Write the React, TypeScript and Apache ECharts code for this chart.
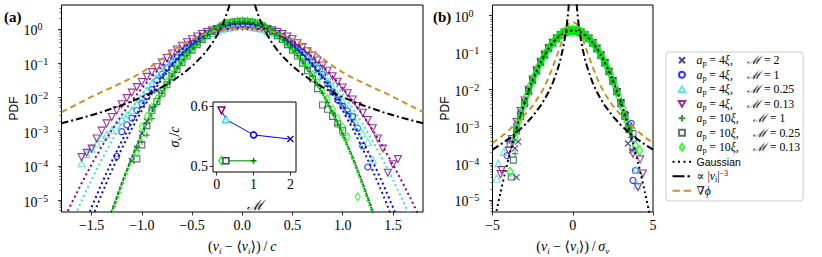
import React, { useEffect, useRef } from 'react';
import * as echarts from 'echarts';

// ---------------- tick values ----------------
const A_X_TICKS = [-1.5, -1, -0.5, 0, 0.5, 1, 1.5];
const B_X_TICKS = [-5, 0, 5];
const Y_TICKS = [1e-5, 1e-4, 1e-3, 1e-2, 1e-1, 1];
const INSET_X_TICKS = [0, 1, 2];
const INSET_Y_TICKS = [0.5, 0.6];

// ---------------- panel (a): markers ----------------
const A_NAVY = [[-1.1,1.4e-4],[-1.05,3.2e-4],[-1,8.9e-4],[-0.95,2.0e-3],[-0.9,5.0e-3],[-0.85,0.0158],[-0.8,0.039],[-0.75,0.0605],[-0.7,0.0912],[-0.65,0.133],[-0.6,0.19],[-0.55,0.262],[-0.5,0.353],[-0.45,0.461],[-0.4,0.586],[-0.35,0.724],[-0.3,0.87],[-0.25,1.02],[-0.2,1.15],[-0.15,1.27],[-0.1,1.37],[-0.05,1.43],[0,1.45],[0.05,1.42],[0.1,1.36],[0.15,1.28],[0.2,1.15],[0.25,1.01],[0.3,0.87],[0.35,0.72],[0.4,0.59],[0.45,0.46],[0.5,0.35],[0.55,0.26],[0.6,0.19],[0.65,0.133],[0.7,0.091],[0.75,0.06],[0.8,0.039],[0.85,0.0245],[0.9,0.0141],[0.95,8.9e-3],[1,5.6e-3],[1.05,3.55e-3],[1.1,2.0e-3]];
const A_BLUE = [[-1.25,1.9e-4],[-1.2,1.0e-3],[-1.15,1.58e-3],[-1.1,2.5e-3],[-1.05,4.2e-3],[-1,6.6e-3],[-0.95,0.0105],[-0.9,0.017],[-0.85,0.0309],[-0.8,0.0476],[-0.75,0.0718],[-0.7,0.105],[-0.65,0.151],[-0.6,0.21],[-0.55,0.284],[-0.5,0.376],[-0.45,0.483],[-0.4,0.605],[-0.35,0.738],[-0.3,0.877],[-0.25,1.01],[-0.2,1.14],[-0.15,1.25],[-0.1,1.34],[-0.05,1.39],[0,1.41],[0.05,1.39],[0.1,1.34],[0.15,1.25],[0.2,1.14],[0.25,1.01],[0.3,0.877],[0.35,0.738],[0.4,0.605],[0.45,0.483],[0.5,0.376],[0.55,0.284],[0.6,0.21],[0.65,0.151],[0.7,0.105],[0.75,0.0718],[0.8,0.0476],[0.85,0.025],[0.9,0.0145],[0.95,8.5e-3],[1,5.6e-3],[1.05,4.0e-3],[1.1,2.8e-3],[1.15,1.26e-3],[1.2,3.8e-4],[1.25,9.3e-5]];
const A_CYAN = [[-1.6,1.2e-4],[-1.55,2.2e-4],[-1.5,3.2e-4],[-1.45,4.5e-4],[-1.4,6.5e-4],[-1.35,8.3e-4],[-1.3,1.12e-3],[-1.25,1.62e-3],[-1.2,2.2e-3],[-1.15,3.0e-3],[-1.1,4.2e-3],[-1.05,6.3e-3],[-1,8.9e-3],[-0.95,0.0158],[-0.9,0.024],[-0.85,0.0355],[-0.8,0.0525],[-0.75,0.0759],[-0.7,0.107],[-0.65,0.148],[-0.6,0.2],[-0.55,0.263],[-0.5,0.339],[-0.45,0.427],[-0.4,0.525],[-0.35,0.631],[-0.3,0.759],[-0.25,0.871],[-0.2,0.977],[-0.15,1.07],[-0.1,1.17],[-0.05,1.26],[0,1.29],[0.05,1.26],[0.1,1.17],[0.15,1.07],[0.2,0.977],[0.25,0.871],[0.3,0.759],[0.35,0.631],[0.4,0.525],[0.45,0.427],[0.5,0.339],[0.55,0.251],[0.6,0.186],[0.65,0.135],[0.7,0.0955],[0.75,0.0661],[0.8,0.0447],[0.85,0.0295],[0.9,0.0191],[0.95,0.012],[1,7.6e-3],[1.05,4.6e-3],[1.1,2.7e-3],[1.15,1.5e-3],[1.2,8.9e-4],[1.25,5.0e-4],[1.3,1.48e-4]];
const A_PURPLE = [[-1.6,1.8e-4],[-1.55,2.4e-4],[-1.5,3.2e-4],[-1.45,6.3e-4],[-1.4,1.07e-3],[-1.35,1.74e-3],[-1.3,2.69e-3],[-1.25,4.17e-3],[-1.2,6.31e-3],[-1.15,9.55e-3],[-1.1,0.0138],[-1.05,0.02],[-1,0.0282],[-0.95,0.0398],[-0.9,0.055],[-0.85,0.0759],[-0.8,0.105],[-0.75,0.141],[-0.7,0.191],[-0.65,0.251],[-0.6,0.324],[-0.55,0.407],[-0.5,0.501],[-0.45,0.603],[-0.4,0.708],[-0.35,0.813],[-0.3,0.912],[-0.25,1.0],[-0.2,1.07],[-0.15,1.12],[-0.1,1.15],[-0.05,1.17],[0,1.175],[0.05,1.17],[0.1,1.15],[0.15,1.12],[0.2,1.07],[0.25,1.0],[0.3,0.912],[0.35,0.813],[0.4,0.708],[0.45,0.603],[0.5,0.501],[0.55,0.38],[0.6,0.295],[0.65,0.224],[0.7,0.166],[0.75,0.12],[0.8,0.0851],[0.85,0.0603],[0.9,0.0417],[0.95,0.0288],[1,0.0195],[1.05,0.0132],[1.1,8.7e-3],[1.15,5.62e-3],[1.2,3.55e-3],[1.25,2.19e-3],[1.3,1.26e-3],[1.35,6.3e-4],[1.4,3.2e-4],[1.45,6.3e-5],[1.5,1.12e-4],[1.55,1.58e-4]];
const A_GREEN = [[-1.05,3.5e-4],[-1,5.0e-4],[-0.95,7.9e-4],[-0.9,2.4e-3],[-0.85,6.3e-3],[-0.8,0.0132],[-0.75,0.024],[-0.7,0.0417],[-0.65,0.0692],[-0.6,0.11],[-0.55,0.17],[-0.5,0.251],[-0.45,0.363],[-0.4,0.501],[-0.35,0.661],[-0.3,0.851],[-0.25,1.05],[-0.2,1.26],[-0.15,1.45],[-0.1,1.58],[-0.05,1.66],[0,1.7],[0.05,1.66],[0.1,1.58],[0.15,1.45],[0.2,1.26],[0.25,1.05],[0.3,0.851],[0.35,0.661],[0.4,0.501],[0.45,0.363],[0.5,0.251],[0.55,0.17],[0.6,0.11],[0.65,0.0692],[0.7,0.0417],[0.75,0.024],[0.8,0.0132],[0.85,7.1e-3],[0.9,3.55e-3],[0.95,1.58e-3],[1,7.9e-4]];
const A_SLATE = [[-1.05,1.6e-4],[-1,4.1e-4],[-0.95,1.5e-3],[-0.9,4.2e-3],[-0.85,7.6e-3],[-0.8,0.0132],[-0.75,0.0234],[-0.7,0.0398],[-0.65,0.0661],[-0.6,0.105],[-0.55,0.162],[-0.5,0.24],[-0.45,0.347],[-0.4,0.49],[-0.35,0.646],[-0.3,0.832],[-0.25,1.02],[-0.2,1.23],[-0.15,1.41],[-0.1,1.55],[-0.05,1.62],[0,1.66],[0.05,1.62],[0.1,1.55],[0.15,1.41],[0.2,1.23],[0.25,1.02],[0.3,0.832],[0.35,0.646],[0.4,0.49],[0.45,0.347],[0.5,0.24],[0.55,0.162],[0.6,0.1],[0.65,0.06],[0.7,0.035],[0.75,0.018],[0.8,6.0e-3],[0.85,4.5e-3],[0.9,2.8e-3],[0.95,1.7e-3],[1,1.1e-3]];
const A_LIME = [[-1.05,2.5e-4],[-1,1.38e-3],[-0.95,2.8e-3],[-0.9,5.2e-3],[-0.85,9.3e-3],[-0.8,0.0158],[-0.75,0.0282],[-0.7,0.0468],[-0.65,0.0759],[-0.6,0.117],[-0.55,0.178],[-0.5,0.263],[-0.45,0.372],[-0.4,0.513],[-0.35,0.676],[-0.3,0.871],[-0.25,1.07],[-0.2,1.29],[-0.15,1.48],[-0.1,1.62],[-0.05,1.7],[0,1.74],[0.05,1.7],[0.1,1.62],[0.15,1.48],[0.2,1.29],[0.25,1.07],[0.3,0.871],[0.35,0.676],[0.4,0.513],[0.45,0.372],[0.5,0.263],[0.55,0.178],[0.6,0.117],[0.65,0.0759],[0.7,0.0468],[0.75,0.0282],[0.8,0.0158],[0.85,9.3e-3],[0.9,4.5e-3],[0.95,2.5e-3],[1,1.38e-3],[1.05,7.1e-4],[1.15,1.26e-5]];

// ---------------- panel (a): fitted Gaussians (dotted) ----------------
const G_X = [-1.8,-1.7,-1.6,-1.5,-1.4,-1.3,-1.2,-1.1,-1.0,-0.9,-0.8,-0.7,-0.6,-0.5,-0.4,-0.3,-0.2,-0.1,0,0.1,0.2,0.3,0.4,0.5,0.6,0.7,0.8,0.9,1.0,1.1,1.2,1.3,1.4,1.5,1.6,1.7,1.8];
const G_NAVY = [8e-9,6.3e-8,4.4e-7,2.71e-6,1.49e-5,7.25e-5,3.15e-4,1.21e-3,4.17e-3,0.0127,0.0345,0.0833,0.179,0.341,0.578,0.872,1.17,1.39,1.48,1.39,1.17,0.872,0.578,0.341,0.179,0.0833,0.0345,0.0127,4.17e-3,1.21e-3,3.15e-4,7.25e-5,1.49e-5,2.71e-6,4.4e-7,6.3e-8,8e-9];
const G_BLUE = [3e-8,1.9e-7,1.14e-6,6.24e-6,3.05e-5,1.34e-4,5.28e-4,1.86e-3,5.89e-3,0.0167,0.0424,0.0964,0.196,0.359,0.587,0.863,1.14,1.34,1.41,1.34,1.14,0.863,0.587,0.359,0.196,0.0964,0.0424,0.0167,5.89e-3,1.86e-3,5.28e-4,1.34e-4,3.05e-5,6.24e-6,1.14e-6,1.9e-7,3e-8];
const G_CYAN = [4.2e-7,2.09e-6,9.55e-6,3.98e-5,1.51e-4,5.25e-4,1.66e-3,4.79e-3,0.0126,0.0302,0.0661,0.132,0.24,0.398,0.603,0.832,1.05,1.2,1.26,1.2,1.05,0.832,0.603,0.398,0.24,0.132,0.0661,0.0302,0.0126,4.79e-3,1.66e-3,5.25e-4,1.51e-4,3.98e-5,9.55e-6,2.09e-6,4.2e-7];
const G_PURPLE = [1.92e-6,8.05e-6,3.11e-5,1.11e-4,3.64e-4,1.1e-3,3.07e-3,7.87e-3,0.0186,0.0406,0.0815,0.151,0.256,0.403,0.582,0.776,0.953,1.08,1.12,1.08,0.953,0.776,0.582,0.403,0.256,0.151,0.0815,0.0406,0.0186,7.87e-3,3.07e-3,1.1e-3,3.64e-4,1.11e-4,3.11e-5,8.05e-6,1.92e-6];
const G_GREEN = [3.5e-11,4.9e-10,6e-9,6.3e-8,5.8e-7,4.5e-6,3.0e-5,1.73e-4,8.5e-4,3.6e-3,0.0131,0.041,0.11,0.254,0.504,0.857,1.25,1.57,1.7,1.57,1.25,0.857,0.504,0.254,0.11,0.041,0.0131,3.6e-3,8.5e-4,1.73e-4,3.0e-5,4.5e-6,5.8e-7,6.3e-8,6e-9,4.9e-10,3.5e-11];
const G_SLATE = [4e-11,5.5e-10,6.6e-9,6.8e-8,6.2e-7,4.75e-6,3.14e-5,1.78e-4,8.7e-4,3.66e-3,0.0132,0.041,0.109,0.251,0.496,0.841,1.23,1.54,1.66,1.54,1.23,0.841,0.496,0.251,0.109,0.041,0.0132,3.66e-3,8.7e-4,1.78e-4,3.14e-5,4.75e-6,6.2e-7,6.8e-8,6.6e-9,5.5e-10,4e-11];
const G_LIME = [2e-11,3.2e-10,4.1e-9,4.6e-8,4.3e-7,3.51e-6,2.44e-5,1.45e-4,7.41e-4,3.24e-3,0.0121,0.0388,0.106,0.25,0.502,0.865,1.27,1.61,1.74,1.61,1.27,0.865,0.502,0.25,0.106,0.0388,0.0121,3.24e-3,7.41e-4,1.45e-4,2.44e-5,3.51e-6,4.3e-7,4.6e-8,4.1e-9,3.2e-10,2e-11];

// ---------------- panel (a): model curves ----------------
const A_PHI_Y = [3.72e-3,5.25e-3,7.41e-3,0.0105,0.0145,0.0195,0.0269,0.0372,0.0537,0.0832,0.135,0.229,0.347,0.501,0.676,0.832,0.955,1.023,1.047,1.023,0.955,0.832,0.676,0.501,0.347,0.229,0.135,0.0832,0.0537,0.0372,0.0269,0.0195,0.0145,0.0105,7.41e-3,5.25e-3,3.72e-3];
const A_POW_L_X = [-1.8,-1.6,-1.4,-1.2,-1.0,-0.9,-0.8,-0.7,-0.6,-0.5,-0.4,-0.35,-0.3,-0.25,-0.2,-0.17,-0.15,-0.13,-0.11];
const A_POW_R_X = [1.8,1.6,1.4,1.2,1.0,0.9,0.8,0.7,0.6,0.5,0.4,0.35,0.3,0.25,0.2,0.17,0.15,0.13,0.11];
const A_POW_Y = [1.75e-3,2.49e-3,3.72e-3,5.9e-3,0.0102,0.014,0.0199,0.0297,0.0472,0.0816,0.159,0.238,0.378,0.653,1.275,2.08,3.02,4.64,7.66];

// ---------------- panel (b) ----------------
const B_X = [-3.5,-3.25,-3,-2.75,-2.5,-2.25,-2,-1.75,-1.5,-1.25,-1,-0.75,-0.5,-0.25,0,0.25,0.5,0.75,1,1.25,1.5,1.75,2,2.25,2.5,2.75,3,3.25,3.5];
const B_NAVY = [9.5e-4,2.1e-3,4.5e-3,9.4e-3,0.018,0.032,0.055,0.087,0.131,0.184,0.243,0.302,0.353,0.39,0.402,0.39,0.354,0.303,0.243,0.182,0.128,0.085,0.053,0.031,0.0172,9.0e-3,4.5e-3,2.2e-3,1.0e-3];
const B_BLUE = [1.1e-3,2.3e-3,4.6e-3,9.5e-3,0.0178,0.032,0.054,0.086,0.13,0.182,0.24,0.298,0.349,0.385,0.397,0.386,0.351,0.3,0.242,0.184,0.131,0.087,0.055,0.032,0.0178,9.3e-3,4.6e-3,2.1e-3,1.1e-3];
const B_CYAN = [1.2e-3,2.4e-3,4.8e-3,9.6e-3,0.018,0.032,0.055,0.087,0.131,0.183,0.241,0.298,0.346,0.379,0.39,0.379,0.347,0.298,0.241,0.183,0.13,0.085,0.053,0.031,0.0171,8.8e-3,4.3e-3,2.0e-3,9.0e-4];
const B_PURPLE = [1.3e-3,2.6e-3,5.0e-3,9.8e-3,0.0185,0.033,0.056,0.088,0.132,0.184,0.241,0.296,0.343,0.374,0.384,0.374,0.342,0.295,0.24,0.182,0.128,0.084,0.052,0.03,0.0165,8.5e-3,4.2e-3,1.9e-3,8.5e-4];
const B_GREEN = [8.0e-4,1.9e-3,4.2e-3,8.8e-3,0.017,0.031,0.053,0.085,0.129,0.183,0.243,0.304,0.356,0.392,0.405,0.392,0.356,0.303,0.242,0.182,0.128,0.085,0.053,0.031,0.017,8.8e-3,4.2e-3,1.9e-3,8.5e-4];
const B_SLATE = [7.5e-4,1.8e-3,4.1e-3,8.7e-3,0.0172,0.0315,0.054,0.086,0.13,0.184,0.245,0.306,0.358,0.394,0.406,0.394,0.357,0.304,0.243,0.182,0.127,0.084,0.052,0.0305,0.0168,8.6e-3,4.1e-3,1.85e-3,8.0e-4];
const B_LIME = [8.2e-4,1.9e-3,4.3e-3,9.0e-3,0.0174,0.0318,0.0545,0.087,0.131,0.185,0.246,0.307,0.36,0.396,0.408,0.396,0.36,0.306,0.245,0.184,0.13,0.086,0.054,0.0315,0.0173,8.9e-3,4.3e-3,1.95e-3,8.5e-4];
const B_LIME_MID_X = [-3.375,-3.125,-2.875,-2.625,-2.375,-2.125,-1.875,-1.625,-1.375,-1.125,-0.875,-0.625,-0.375,-0.125,0.125,0.375,0.625,0.875,1.125,1.375,1.625,1.875,2.125,2.375,2.625,2.875,3.125,3.375];
const B_LIME_MID_Y = [1.35e-3,3.05e-3,6.5e-3,0.013,0.0243,0.0425,0.0703,0.109,0.159,0.216,0.277,0.335,0.379,0.404,0.404,0.379,0.335,0.277,0.216,0.159,0.109,0.0703,0.0425,0.0243,0.013,6.5e-3,3.05e-3,1.35e-3];
const B_NAVY_TAIL = [[-3.6,2.5e-4],[-3.5,4.1e-5],[-3.4,3.8e-4],[3.44,3.4e-4],[3.7,2.2e-4]];
const B_BLUE_TAIL = [[-4.1,1.6e-4],[-3.8,4.0e-4],[3.64,1.2e-3],[3.75,3.4e-5],[3.9,6.3e-5],[3.8,4.5e-4]];
const B_CYAN_TAIL = [[-4.74,3.8e-5],[-4.64,9.8e-5],[-4.3,2.0e-4],[-3.9,4.2e-4],[3.96,6.5e-5],[4.0,2.5e-5],[3.8,2.5e-4]];
const B_PURPLE_TAIL = [[-4.5,5.0e-5],[-4.43,6.5e-5],[-4.0,2.2e-4],[-3.8,4.5e-4],[3.75,1.8e-4],[4.06,2.2e-5],[4.37,5.2e-5],[4.2,1.26e-4]];
const B_GREEN_TAIL = [[-3.6,1.8e-4],[-3.45,7.9e-4],[3.6,5.0e-4]];
const B_SLATE_TAIL = [[-3.9,3.2e-4],[-3.83,4.2e-5],[-3.7,1.2e-4],[3.75,6.3e-4]];
const B_LIME_TAIL = [[-3.9,5.8e-5],[-3.6,5.0e-4],[4.16,2.2e-4],[3.9,3.0e-4]];

const B_GAUSS_X = [-5,-4.75,-4.5,-4.25,-4,-3.75,-3.5,-3.25,-3,-2.75,-2.5,-2.25,-2,-1.75,-1.5,-1.25,-1,-0.75,-0.5,-0.25,0,0.25,0.5,0.75,1,1.25,1.5,1.75,2,2.25,2.5,2.75,3,3.25,3.5,3.75,4,4.25,4.5,4.75,5];
const B_GAUSS_Y = [1.49e-6,5.0e-6,1.6e-5,4.77e-5,1.34e-4,3.53e-4,8.73e-4,2.03e-3,4.43e-3,9.09e-3,0.0175,0.0317,0.054,0.0863,0.1295,0.1826,0.242,0.3011,0.3521,0.3867,0.3989,0.3867,0.3521,0.3011,0.242,0.1826,0.1295,0.0863,0.054,0.0317,0.0175,9.09e-3,4.43e-3,2.03e-3,8.73e-4,3.53e-4,1.34e-4,4.77e-5,1.6e-5,5.0e-6,1.49e-6];
const B_PHI_X = [-5,-4.5,-4,-3.5,-3,-2.5,-2,-1.75,-1.5,-1.25,-1,-0.75,-0.5,-0.25,0,0.25,0.5,0.75,1,1.25,1.5,1.75,2,2.5,3,3.5,4,4.5,5];
const B_PHI_Y = [3.5e-4,5.0e-4,7.6e-4,1.26e-3,2.0e-3,3.55e-3,7.59e-3,0.012,0.0209,0.0398,0.0794,0.158,0.38,0.603,0.676,0.603,0.38,0.158,0.0794,0.0398,0.0209,0.012,7.59e-3,3.55e-3,2.0e-3,1.26e-3,7.6e-4,5.0e-4,3.5e-4];
const B_POW_L_X = [-5,-4.5,-4,-3.5,-3,-2.5,-2,-1.75,-1.5,-1.25,-1,-0.8,-0.6,-0.5,-0.4,-0.35,-0.3,-0.27,-0.24,-0.22];
const B_POW_R_X = [5,4.5,4,3.5,3,2.5,2,1.75,1.5,1.25,1,0.8,0.6,0.5,0.4,0.35,0.3,0.27,0.24,0.22];
const B_POW_Y = [2.32e-4,3.18e-4,4.53e-4,6.76e-4,1.074e-3,1.856e-3,3.625e-3,5.41e-3,8.59e-3,0.01485,0.029,0.0566,0.134,0.232,0.453,0.676,1.074,1.473,2.098,2.72];

// ---------------- inset ----------------
const INSET_M_4 = [0.13, 0.25, 1, 2];
const INSET_S_4 = [0.593, 0.578, 0.552, 0.545];
const INSET_M_10 = [0.13, 0.25, 1];
const INSET_S_10 = [0.509, 0.509, 0.509];

// ---------------- styles ----------------
const SERIF = '"Liberation Serif", "DejaVu Serif", serif';
const SANS = '"Liberation Sans", Arial, sans-serif';
const NAVY = '#191970';
const BLUE = '#0000ff';
const CYAN = '#40e0d0';
const PURPLE = '#800080';
const GREEN = '#008000';
const SLATE = '#2f4f4f';
const LIME = '#00ff00';
const GOLD = '#c8922f';

const X_SYM = 'path://M0,0L10,10M10,0L0,10';
const PLUS_SYM = 'path://M5,0L5,10M0,5L10,5';
const TRI_DOWN = 'path://M0,0L10,0L5,8.66Z';

// legend icons: padded to a 19x7 box so they are not stretched
const BOX = 'M0,0M19,7';
const LG_X = `path://${BOX}M6.5,0.5L12.5,6.5M12.5,0.5L6.5,6.5`;
const LG_CIRCLE = `path://${BOX}M12.5,3.5A3,3,0,1,1,6.5,3.5A3,3,0,1,1,12.5,3.5Z`;
const LG_TRI_UP = `path://${BOX}M6.2,6.3L12.8,6.3L9.5,0.6Z`;
const LG_TRI_DOWN = `path://${BOX}M6.2,0.7L12.8,0.7L9.5,6.4Z`;
const LG_PLUS = `path://${BOX}M9.5,0.2L9.5,6.8M6.2,3.5L12.8,3.5`;
const LG_SQUARE = `path://${BOX}M6.6,0.6L12.4,0.6L12.4,6.4L6.6,6.4Z`;
const LG_DIAMOND = `path://${BOX}M9.5,0L11.8,3.5L9.5,7L7.2,3.5Z`;
const LG_DOTS = `path://${BOX}M0,2.5h2v2h-2zM5.5,2.5h2v2h-2zM11,2.5h2v2h-2zM16.5,2.5h2v2h-2z`;
const LG_DASHDOT = `path://${BOX}M0,2.5h12v2h-12zM15,2.5h2.5v2h-2.5z`;
const LG_DASH = `path://${BOX}M0,2.5h7.5v2h-7.5zM11,2.5h7.5v2h-7.5z`;

const SERIES_DEF = [
  { key: 's1', color: NAVY, symbol: X_SYM, lg: LG_X, size: 6, a: A_NAVY, bY: B_NAVY, bT: B_NAVY_TAIL, g: G_NAVY },
  { key: 's2', color: BLUE, symbol: 'circle', lg: LG_CIRCLE, size: 6, a: A_BLUE, bY: B_BLUE, bT: B_BLUE_TAIL, g: G_BLUE },
  { key: 's3', color: CYAN, symbol: 'triangle', lg: LG_TRI_UP, size: 7, a: A_CYAN, bY: B_CYAN, bT: B_CYAN_TAIL, g: G_CYAN },
  { key: 's4', color: PURPLE, symbol: TRI_DOWN, lg: LG_TRI_DOWN, size: 7, a: A_PURPLE, bY: B_PURPLE, bT: B_PURPLE_TAIL, g: G_PURPLE },
  { key: 's5', color: GREEN, symbol: PLUS_SYM, lg: LG_PLUS, size: 6, a: A_GREEN, bY: B_GREEN, bT: B_GREEN_TAIL, g: G_GREEN },
  { key: 's6', color: SLATE, symbol: 'rect', lg: LG_SQUARE, size: 6, a: A_SLATE, bY: B_SLATE, bT: B_SLATE_TAIL, g: G_SLATE },
  { key: 's7', color: LIME, symbol: 'diamond', lg: LG_DIAMOND, size: [5, 8], a: A_LIME, bY: B_LIME, bT: B_LIME_TAIL, g: G_LIME },
];

const SYM_OF: Record<string, any> = {};
SERIES_DEF.forEach((s) => { SYM_OF[s.key] = s; });

const GAP = '\u2003\u2009';
const LEGEND_TEXT: Record<string, string> = {
  s1: `{i|a}{sb|p}{r| = 4}{i|ξ}{r|,${GAP}}{i|ℳ}{r| = 2}`,
  s2: `{i|a}{sb|p}{r| = 4}{i|ξ}{r|,${GAP}}{i|ℳ}{r| = 1}`,
  s3: `{i|a}{sb|p}{r| = 4}{i|ξ}{r|,${GAP}}{i|ℳ}{r| = 0.25}`,
  s4: `{i|a}{sb|p}{r| = 4}{i|ξ}{r|,${GAP}}{i|ℳ}{r| = 0.13}`,
  s5: `{i|a}{sb|p}{r| = 10}{i|ξ}{r|,${GAP}}{i|ℳ}{r| = 1}`,
  s6: `{i|a}{sb|p}{r| = 10}{i|ξ}{r|,${GAP}}{i|ℳ}{r| = 0.25}`,
  s7: `{i|a}{sb|p}{r| = 10}{i|ξ}{r|,${GAP}}{i|ℳ}{r| = 0.13}`,
  Gaussian: '{sans|Gaussian}',
  powerlaw: '{r|∝ |}{i|v}{sb|i}{r||}{sp|−3}',
  gradphi: '{r|∇}{i|ϕ}',
};

const LH = 14.5;
const LFS = 11.8;
const legendRich = {
  r: { fontFamily: SERIF, fontSize: LFS, lineHeight: LH, verticalAlign: 'middle', color: '#000' },
  i: { fontFamily: SERIF, fontStyle: 'italic', fontSize: LFS, lineHeight: LH, verticalAlign: 'middle', color: '#000' },
  sb: { fontFamily: SERIF, fontSize: 8, lineHeight: 8, verticalAlign: 'bottom', color: '#000' },
  sp: { fontFamily: SERIF, fontSize: 8, lineHeight: 8, verticalAlign: 'top', color: '#000' },
  sans: { fontFamily: SANS, fontSize: 10.5, lineHeight: LH, verticalAlign: 'middle', color: '#000' },
};

const mathRich = {
  r: { fontFamily: SERIF, fontSize: 14, lineHeight: 18, verticalAlign: 'middle', color: '#000' },
  i: { fontFamily: SERIF, fontStyle: 'italic', fontSize: 14, lineHeight: 18, verticalAlign: 'middle', color: '#000' },
  sb: { fontFamily: SERIF, fontStyle: 'italic', fontSize: 9, lineHeight: 9, verticalAlign: 'bottom', color: '#000' },
};

const powRich = {
  b: { fontFamily: SERIF, fontSize: 14, lineHeight: 18, verticalAlign: 'middle', color: '#000' },
  p: { fontFamily: SERIF, fontSize: 10, lineHeight: 10, verticalAlign: 'top', color: '#000' },
};

function fmtPow(v: number) {
  const e = Math.round(Math.log10(v));
  return `{b|10}{p|${e < 0 ? '−' + -e : e}}`;
}
function fmtDec(v: number) {
  return (v < 0 ? '−' : '') + Math.abs(v).toFixed(1);
}
function fmtInt(v: number) {
  return (v < 0 ? '−' : '') + Math.abs(v);
}

const tickStyle = { lineStyle: { color: '#000', width: 0.8 }, length: 3.5 };
const minorStyle = { show: true, splitNumber: 9, length: 2, lineStyle: { color: '#000', width: 0.6 } };
const noLine = { show: false, onZero: false };

function logYAxis(gridIndex: number, min: number, max: number) {
  return {
    type: 'log', logBase: 10, gridIndex, min, max,
    axisLine: noLine, splitLine: { show: false },
    axisTick: { show: true, ...tickStyle, customValues: Y_TICKS },
    minorTick: minorStyle,
    axisLabel: { customValues: Y_TICKS, formatter: fmtPow, rich: powRich, align: 'left', margin: 38, padding: [4, 0, 0, 0], color: '#000' },
    name: 'PDF', nameLocation: 'middle', nameGap: 42,
    nameTextStyle: { fontFamily: SANS, fontSize: 12, color: '#000' },
  };
}

function buildOption() {
  const series: any[] = [];
  SERIES_DEF.forEach((s) => {
    const itemStyle = { color: 'rgba(0,0,0,0)', borderColor: s.color, borderWidth: 1.1 };
    series.push({ type: 'scatter', name: s.key, xAxisIndex: 0, yAxisIndex: 0, data: s.a, symbol: s.symbol, symbolSize: s.size, itemStyle, z: 2, silent: true });
    let bData: any[] = B_X.map((x, i) => [x, s.bY[i]]).concat(s.bT);
    if (s.key === 's7') bData = bData.concat(B_LIME_MID_X.map((x, i) => [x, B_LIME_MID_Y[i]]));
    series.push({
      type: 'scatter', name: s.key, xAxisIndex: 1, yAxisIndex: 1,
      data: bData, symbol: s.symbol, symbolSize: s.key === 's7' ? [6, 9] : s.size,
      itemStyle: s.key === 's7' ? { ...itemStyle, borderWidth: 1.4 } : itemStyle, z: 2, silent: true,
    });
  });
  SERIES_DEF.forEach((s) => {
    series.push({
      type: 'line', name: 'g-' + s.key, xAxisIndex: 0, yAxisIndex: 0, data: G_X.map((x, i) => [x, s.g[i]]),
      showSymbol: false, symbol: 'none', lineStyle: { color: s.color, width: 2, type: [2, 3] }, z: 3, silent: true,
    });
  });
  const dashDot = { color: '#000', width: 2, type: [7, 3, 2, 3] };
  const dashed = { color: GOLD, width: 2, type: [6, 4] };
  series.push({ type: 'line', name: 'gradphi', xAxisIndex: 0, yAxisIndex: 0, data: G_X.map((x, i) => [x, A_PHI_Y[i]]), symbol: 'none', lineStyle: dashed, z: 4, silent: true });
  series.push({ type: 'line', name: 'powerlaw', xAxisIndex: 0, yAxisIndex: 0, data: A_POW_L_X.map((x, i) => [x, A_POW_Y[i]]), symbol: 'none', lineStyle: dashDot, z: 4, silent: true });
  series.push({ type: 'line', name: 'powerlaw', xAxisIndex: 0, yAxisIndex: 0, data: A_POW_R_X.map((x, i) => [x, A_POW_Y[i]]), symbol: 'none', lineStyle: dashDot, z: 4, silent: true });
  series.push({ type: 'line', name: 'gradphi', xAxisIndex: 1, yAxisIndex: 1, data: B_PHI_X.map((x, i) => [x, B_PHI_Y[i]]), symbol: 'none', lineStyle: dashed, z: 4, silent: true });
  series.push({ type: 'line', name: 'powerlaw', xAxisIndex: 1, yAxisIndex: 1, data: B_POW_L_X.map((x, i) => [x, B_POW_Y[i]]), symbol: 'none', lineStyle: dashDot, z: 4, silent: true });
  series.push({ type: 'line', name: 'powerlaw', xAxisIndex: 1, yAxisIndex: 1, data: B_POW_R_X.map((x, i) => [x, B_POW_Y[i]]), symbol: 'none', lineStyle: dashDot, z: 4, silent: true });
  series.push({ type: 'line', name: 'Gaussian', xAxisIndex: 1, yAxisIndex: 1, data: B_GAUSS_X.map((x, i) => [x, B_GAUSS_Y[i]]), symbol: 'none', smooth: 0.2, lineStyle: { color: '#000', width: 2, type: [2, 3] }, z: 5, silent: true });

  // inset
  const ins4 = ['s4', 's3', 's2', 's1'];
  const ins10 = ['s7', 's6', 's5'];
  const insetItem = (key: string, x: number, y: number) => {
    const s = SYM_OF[key];
    return { value: [x, y], symbol: s.symbol, symbolSize: s.size, itemStyle: { color: key === 's5' || key === 's1' ? s.color : '#fff', borderColor: s.color, borderWidth: 1.5 } };
  };
  series.push({
    type: 'line', name: 'inset4', xAxisIndex: 2, yAxisIndex: 2, z: 12, silent: true,
    data: INSET_M_4.map((m, i) => insetItem(ins4[i], m, INSET_S_4[i])),
    lineStyle: { color: BLUE, width: 1 }, showSymbol: true,
  });
  series.push({
    type: 'line', name: 'inset10', xAxisIndex: 2, yAxisIndex: 2, z: 12, silent: true,
    data: INSET_M_10.map((m, i) => insetItem(ins10[i], m, INSET_S_10[i])),
    lineStyle: { color: '#4cae4c', width: 1.5 }, showSymbol: true,
  });

  const legendData: any[] = SERIES_DEF.map((s) => ({
    name: s.key, icon: s.lg,
    itemStyle: { color: s.lg === LG_X || s.lg === LG_PLUS ? s.color : 'none', borderColor: s.color, borderWidth: 2 },
  })).concat([
    { name: 'Gaussian', icon: LG_DOTS, itemStyle: { color: '#000', borderWidth: 0 } } as any,
    { name: 'powerlaw', icon: LG_DASHDOT, itemStyle: { color: '#000', borderWidth: 0 } } as any,
    { name: 'gradphi', icon: LG_DASH, itemStyle: { color: GOLD, borderWidth: 0 } } as any,
  ]);

  const gridBase = { show: true, borderColor: '#000', borderWidth: 1, backgroundColor: 'transparent', outerBoundsMode: 'none' };
  const xName = (den: string) => `{r|(}{i|v}{sb|i}{r| − ⟨}{i|v}{sb|i}{r|⟩)\u2009/\u2009}${den}`;
  return {
    animation: false,
    backgroundColor: '#fff',
    grid: [
      { ...gridBase, left: 61.5, top: 5, width: 361.5, height: 207 },
      { ...gridBase, left: 492.5, top: 5, width: 160.5, height: 207 },
      { ...gridBase, left: 213, top: 102, width: 83, height: 70, backgroundColor: '#fff', z: 10 },
    ],
    xAxis: [
      {
        type: 'value', gridIndex: 0, min: -1.8, max: 1.8,
        axisLine: noLine, splitLine: { show: false },
        axisTick: { show: true, ...tickStyle, customValues: A_X_TICKS },
        axisLabel: { customValues: A_X_TICKS, formatter: fmtDec, fontFamily: SERIF, fontSize: 14, color: '#000', margin: 6 },
        name: xName('{i|c}'), nameLocation: 'middle', nameGap: 25,
        nameTextStyle: { rich: mathRich },
      },
      {
        type: 'value', gridIndex: 1, min: -5, max: 5,
        axisLine: noLine, splitLine: { show: false },
        axisTick: { show: true, ...tickStyle, customValues: B_X_TICKS },
        axisLabel: { customValues: B_X_TICKS, formatter: fmtInt, fontFamily: SERIF, fontSize: 14, color: '#000', margin: 6 },
        name: xName('{i|σ}{sb|v}'), nameLocation: 'middle', nameGap: 25,
        nameTextStyle: { rich: mathRich },
      },
      {
        type: 'value', gridIndex: 2, min: -0.1, max: 2.15, z: 11,
        axisLine: noLine, splitLine: { show: false },
        axisTick: { show: true, ...tickStyle, customValues: INSET_X_TICKS },
        axisLabel: { customValues: INSET_X_TICKS, formatter: fmtInt, fontFamily: SERIF, fontSize: 14, color: '#000', margin: 5 },
        name: '{i|ℳ}', nameLocation: 'middle', nameGap: 24, nameTextStyle: { rich: mathRich },
      },
    ],
    yAxis: [
      logYAxis(0, 4.5e-6, 5),
      logYAxis(1, 4.7e-6, 1.95),
      {
        type: 'value', gridIndex: 2, min: 0.49, max: 0.607, z: 11,
        axisLine: noLine, splitLine: { show: false },
        axisTick: { show: true, ...tickStyle, customValues: INSET_Y_TICKS },
        axisLabel: { customValues: INSET_Y_TICKS, formatter: (v: number) => v.toFixed(1), fontFamily: SERIF, fontSize: 14, color: '#000', margin: 5 },
        name: '{i|σ}{sb|v}{r|/}{i|c}', nameLocation: 'middle', nameGap: 30, nameTextStyle: { rich: mathRich },
      },
    ],
    legend: {
      show: true, left: 666, top: 52, orient: 'vertical', selectedMode: false,
      padding: [1, 3, 3, 4], itemGap: 0, itemWidth: 19, itemHeight: 7,
      borderColor: '#cccccc', borderWidth: 1, borderRadius: 3, backgroundColor: '#fff',
      data: legendData,
      formatter: (name: string) => LEGEND_TEXT[name] || name,
      textStyle: { fontFamily: SERIF, fontSize: LFS, lineHeight: LH, color: '#000', rich: legendRich },
    },
    graphic: [
      { type: 'text', left: 4, top: 9, style: { text: '(a)', font: 'bold 15px "Liberation Serif", serif', fill: '#000' } },
      { type: 'text', left: 433, top: 9, style: { text: '(b)', font: 'bold 15px "Liberation Serif", serif', fill: '#000' } },
    ],
    series,
  };
}

export default function App() {
  const ref = useRef<HTMLDivElement>(null);
  useEffect(() => {
    if (!ref.current) return;
    const chart = echarts.init(ref.current, null, { renderer: 'svg' });
    chart.setOption(buildOption() as any);
    return () => chart.dispose();
  }, []);
  return <div ref={ref} style={{ position: 'absolute', left: 0, top: 0, width: 822, height: 257 }} />;
}
